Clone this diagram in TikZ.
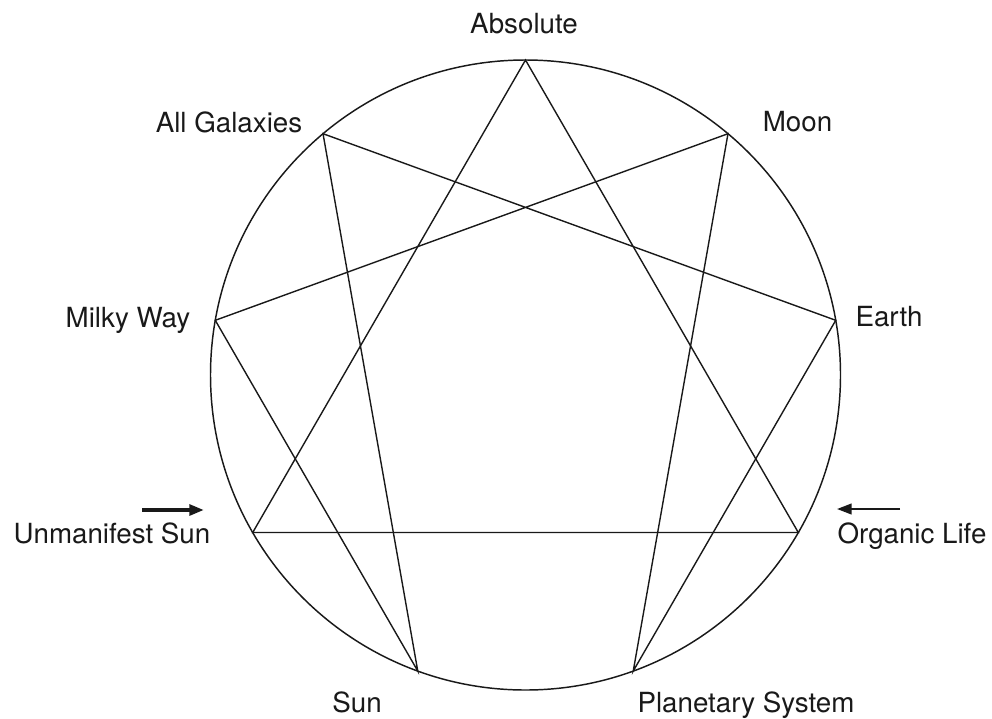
\documentclass[tikz,border=0pt]{standalone}
\usepackage{fontspec}
\setmainfont{TeX Gyre Heros}
\usetikzlibrary{arrows.meta}
\tikzset{
  lbl/.style={anchor=base, inner sep=0pt, text=black!90,
              font=\fontsize{20.8}{25}\selectfont},
  rim/.style={line width=1.1pt, black!90},
  chord/.style={line width=1.05pt, black!90},
  pointer/.style={-{Triangle[length=11pt, width=8pt]}, black!90},
}

\begin{document}
\begin{tikzpicture}[x=0.75pt, y=0.75pt]
  \useasboundingbox (0,0) rectangle (992,-718);

  % --- Circle and its nine points ---
  \coordinate (c) at (525.5,-375);
  \draw[rim] (c) circle[radius=315];
  \foreach \i in {0,...,8}
    \path (c) ++({90-40*\i}:315) coordinate (v\i);

  % --- Triangle ---
  \draw[chord] (v0) -- (v3) -- (v6) -- cycle;

  % --- Hexad ---
  \draw[chord] (v1) -- (v4) -- (v2) -- (v8) -- (v5) -- (v7) -- cycle;

  % --- Labels ---
  \node[lbl] (abs)  at (524,-33)  {Absolute};
  \node[lbl] (moon) at (797.5,-131) {Moon};
  \node[lbl] (gal)  at (229,-132) {All Galaxies};
  \node[lbl] (mw)   at (128,-327) {Milky Way};
  \node[lbl] (erth) at (889,-326) {Earth};
  \node[lbl] (us)   at (112,-543) {Unmanifest Sun};
  \node[lbl] (ol)   at (912,-543) {Organic Life};
  \node[lbl] (sun)  at (357,-712) {Sun};
  \node[lbl] (ps)   at (746,-712) {Planetary System};

  % --- Arrows ---
  \coordinate (usA) at (142,-510);
  \coordinate (usB) at (204,-510);
  \coordinate (olA) at (900,-509);
  \coordinate (olB) at (837,-509);
  \draw[pointer, line width=2.8pt] (usA) -- (usB);
  \draw[pointer, line width=1.6pt] (olA) -- (olB);
\end{tikzpicture}
\end{document}
